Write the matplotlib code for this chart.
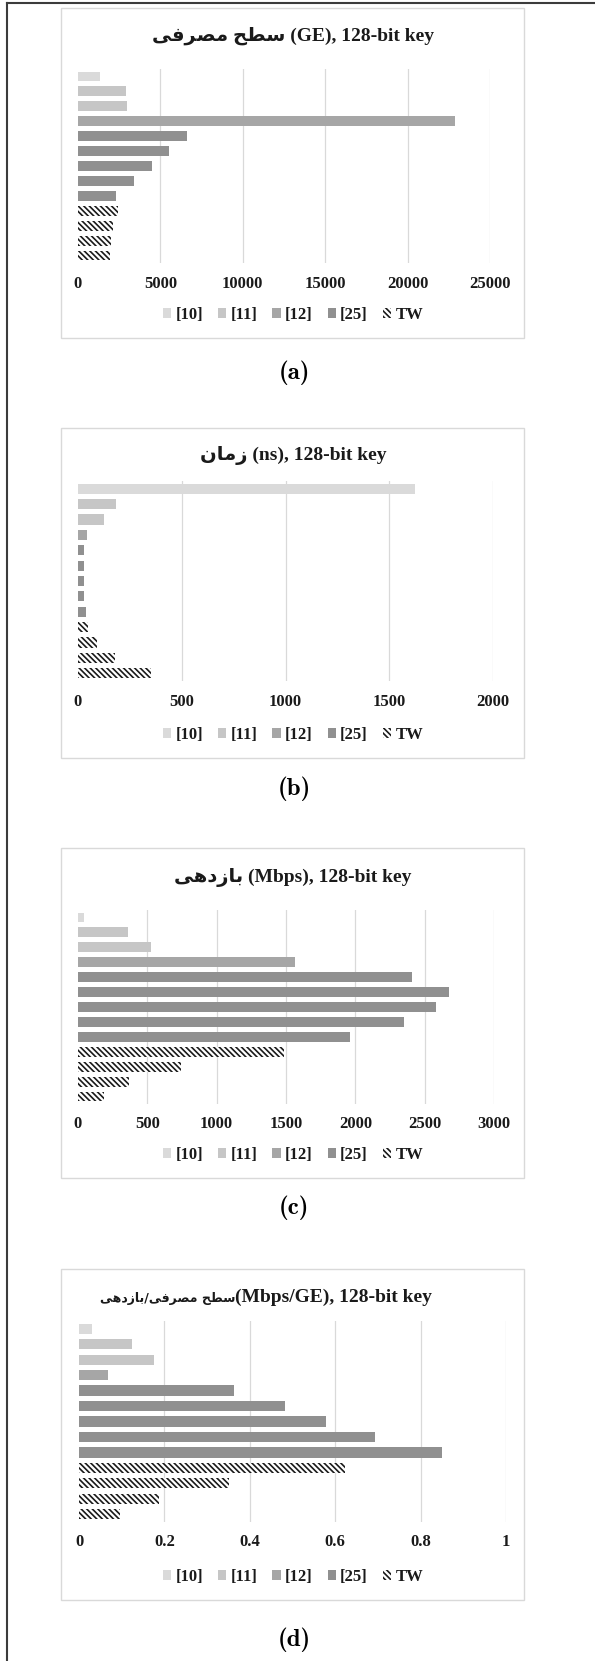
import numpy as np
import matplotlib.pyplot as plt
from matplotlib.patches import Rectangle
from matplotlib.lines import Line2D

plt.rcParams['font.family'] = ['Liberation Serif', 'DejaVu Sans']
plt.rcParams['font.weight'] = 'bold'
plt.rcParams['hatch.linewidth'] = 1.2

# داده‌ها: هر ردیف یک طرح، منبع هر ردیف و مقدار آن در چهار معیار
sources = ['[10]', '[11]', '[12]', '[25]', 'TW']
bar_source = ['[10]', '[11]', '[11]', '[12]', '[25]', '[25]', '[25]', '[25]', '[25]',
              'TW', 'TW', 'TW', 'TW']
area_ge = [1310, 2920, 3000, 22880, 6610, 5540, 4480, 3390, 2320, 2400, 2140, 2000, 1920]
time_ns = [1624, 181, 125, 42, 30, 29, 29, 30, 37, 47, 91, 180, 353]
throughput_mbps = [41, 361, 529, 1567, 2411, 2673, 2584, 2349, 1959, 1488, 740, 370, 188]
efficiency = [0.030, 0.124, 0.176, 0.068, 0.364, 0.482, 0.579, 0.693, 0.849,
              0.623, 0.352, 0.188, 0.097]

colors = {'[10]': '#dadada', '[11]': '#c6c6c6', '[12]': '#a6a6a6', '[25]': '#909090', 'TW': 'white'}

# شکل‌های نمایشی حروف: منفرد، پایانی، آغازین، میانی
FORMS = {
    'ا': ('\uFE8D', '\uFE8E'),
    'د': ('\uFEA9', '\uFEAA'),
    'ر': ('\uFEAD', '\uFEAE'),
    'ز': ('\uFEAF', '\uFEB0'),
    'ب': ('\uFE8F', '\uFE90', '\uFE91', '\uFE92'),
    'ح': ('\uFEA1', '\uFEA2', '\uFEA3', '\uFEA4'),
    'س': ('\uFEB1', '\uFEB2', '\uFEB3', '\uFEB4'),
    'ص': ('\uFEB9', '\uFEBA', '\uFEBB', '\uFEBC'),
    'ط': ('\uFEC1', '\uFEC2', '\uFEC3', '\uFEC4'),
    'ف': ('\uFED1', '\uFED2', '\uFED3', '\uFED4'),
    'م': ('\uFEE1', '\uFEE2', '\uFEE3', '\uFEE4'),
    'ن': ('\uFEE5', '\uFEE6', '\uFEE7', '\uFEE8'),
    'ه': ('\uFEE9', '\uFEEA', '\uFEEB', '\uFEEC'),
    'ی': ('\uFEEF', '\uFEF0', '\uFEF3', '\uFEF4'),
}


def fa(text):
    # اتصال حروف فارسی و راست به چپ کردن متن
    out = []
    for i, ch in enumerate(text):
        if ch not in FORMS:
            out.append(ch)
            continue
        prev = text[i - 1] if i > 0 else ''
        nxt = text[i + 1] if i + 1 < len(text) else ''
        jp = prev in FORMS and len(FORMS[prev]) == 4
        jn = len(FORMS[ch]) == 4 and nxt in FORMS
        f = FORMS[ch]
        if jp and jn:
            out.append(f[3])
        elif jp:
            out.append(f[1])
        elif jn:
            out.append(f[2])
        else:
            out.append(f[0])
    return ''.join(reversed(out))


W, H = 595, 1661
fig = plt.figure(figsize=(W / 100, H / 100), dpi=100)


def fx(x):
    return x / W


def fy(y):
    return 1 - y / H


# قاب بیرونی
fig.add_artist(Line2D([fx(6.5), fx(6.5)], [0, fy(3.3)], color='#3c3c3c', lw=1.5))
fig.add_artist(Line2D([fx(6.5), 1], [fy(3.3), fy(3.3)], color='#3c3c3c', lw=1.5))

panels = [
    dict(values=area_ge, fa_title='سطح مصرفی', title=' (GE), 128-bit key', xmax=25000, step=5000,
         box=(8, 338), base=41, plot=(69, 263), xr=(78, 490), leg=315, cap=373, label='a'),
    dict(values=time_ns, fa_title='زمان', title=' (ns), 128-bit key', xmax=2000, step=500,
         box=(428, 758), base=460, plot=(481, 681), xr=(78, 493), leg=735, cap=789, label='b'),
    dict(values=throughput_mbps, fa_title='بازدهی', title=' (Mbps), 128-bit key', xmax=3000, step=500,
         box=(848, 1178), base=882, plot=(910, 1104), xr=(78, 494), leg=1155, cap=1208, label='c'),
    dict(values=efficiency, fa_title='سطح مصرفی/بازدهی', title='(Mbps/GE), 128-bit key', xmax=1, step=0.2,
         box=(1269, 1600), base=1302, plot=(1321, 1522), xr=(79, 506), leg=1577, cap=1640, label='d'),
]

for p in panels:
    # کادر هر نمودار
    b0, b1 = p['box']
    fig.add_artist(Rectangle((fx(61), fy(b1)), fx(524) - fx(61), fy(b0) - fy(b1),
                             fill=False, edgecolor='#d9d9d9', lw=1.0))

    x0, x1 = p['xr']
    y0, y1 = p['plot']
    ax = fig.add_axes([fx(x0), fy(y1), fx(x1) - fx(x0), fy(y0) - fy(y1)])
    vals = np.array(p['values'])
    rows = np.arange(len(vals))
    for s in sources:
        idx = [i for i, src in enumerate(bar_source) if src == s]
        if s == 'TW':
            ax.barh(rows[idx], vals[idx], height=0.66, color='white', edgecolor='#1a1a1a',
                    hatch='\\' * 6, linewidth=0, label=s, zorder=2)
        else:
            ax.barh(rows[idx], vals[idx], height=0.66, color=colors[s], label=s, zorder=2)

    ticks = np.arange(0, p['xmax'] + p['step'] / 2, p['step'])
    for t in ticks[1:]:
        ax.axvline(t, color='#d9d9d9', lw=0.9, zorder=0)
    ax.set_xlim(0, p['xmax'])
    ax.set_ylim(len(vals) - 0.5, -0.5)
    ax.set_xticks(ticks)
    ax.set_xticklabels(['%g' % t for t in ticks])
    ax.tick_params(axis='x', length=0, pad=9, labelsize=12, labelcolor='#1a1a1a')
    ax.set_yticks([])
    for sp in ax.spines.values():
        sp.set_visible(False)
    ax.patch.set_alpha(0)

    ax.legend(loc='center', bbox_to_anchor=(fx(293), fy(p['leg'])), bbox_transform=fig.transFigure,
              ncol=5, frameon=False, fontsize=12, handlelength=0.5, handleheight=0.5,
              handletextpad=0.25, columnspacing=0.9, labelcolor='#1a1a1a')

    # عنوان
    if p['label'] == 'd':
        fig.text(fx(235), fy(p['base']), fa(p['fa_title']), ha='right', va='baseline',
                 fontsize=9, family='DejaVu Sans', weight='bold', color='#1a1a1a')
        fig.text(fx(235), fy(p['base']), p['title'], ha='left', va='baseline',
                 fontsize=14, color='#1a1a1a')
    else:
        fig.text(fx(293), fy(p['base']), fa(p['fa_title']) + p['title'], ha='center', va='baseline',
                 fontsize=14, color='#1a1a1a')

    fig.text(fx(294), fy(p['cap']), '(%s)' % p['label'], ha='center', va='center',
             fontsize=18, family='cmb10', weight='normal', color='black')

fig.savefig('out.png', dpi=100)
